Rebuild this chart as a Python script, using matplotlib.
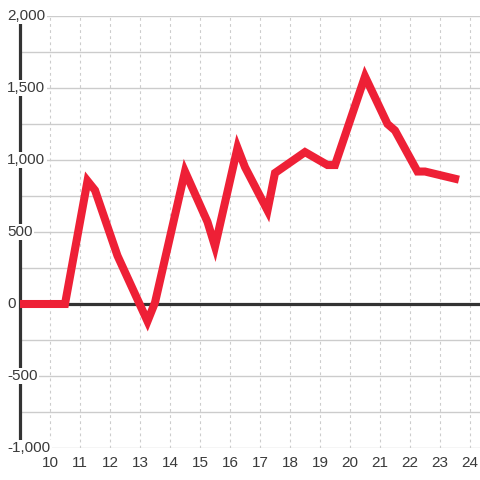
import matplotlib
matplotlib.use("Agg")
import matplotlib.pyplot as plt

plt.rcParams['font.family'] = ['Liberation Sans', 'DejaVu Sans']

# data
x = [9, 10.5, 11.25, 11.5, 12.25, 13.25, 13.5, 14.5, 15.25, 15.5, 16.25, 16.5,
     17.25, 17.5, 18.5, 19.25, 19.5, 20.5, 21.25, 21.5, 22.25, 22.5, 23.5]
y = [0, 0, 855, 790, 335, -120, 10, 920, 570, 400, 1085, 950,
     650, 910, 1055, 965, 965, 1580, 1250, 1205, 920, 920, 870]

xticks = list(range(10, 25))
yticks = [-1000, -500, 0, 500, 1000, 1500, 2000]
ytick_labels = ['-1,000', '-500', '0', '500', '1,000', '1,500', '2,000']

fig = plt.figure(figsize=(4.8, 4.8), dpi=100)
ax = fig.add_axes([20/480, 32/480, 460/480, 432/480])

ax.set_xlim(9, 24 + 1/3)
ax.set_ylim(-1000, 2000)

# grid
for v in range(-1000, 2001, 250):
    ax.axhline(v, color='#cccccc', lw=1.0, zorder=1)
for v in xticks:
    ax.axvline(v, color='#cccccc', lw=0.8, ls=(0, (2.5, 3)), zorder=1)

for s in ['top', 'right', 'bottom']:
    ax.spines[s].set_visible(False)
ax.spines['left'].set_color('#333333')
ax.spines['left'].set_linewidth(2.3)
ax.spines['left'].set_zorder(2.5)

ax.axhline(0, color='#333333', lw=2.3, zorder=2.6)

ax.plot(x, y, color='#ee2036', lw=5.8, solid_joinstyle='miter', zorder=3)

ax.set_xticks(xticks)
ax.set_xticklabels([str(v) for v in xticks])
ax.tick_params(axis='x', length=0, pad=6, labelsize=11, labelcolor='#3a3a3a')
ax.set_yticks([])

# y labels sit on top of the axis line with a white backing
for v, lab in zip(yticks, ytick_labels):
    ax.text(-13/460, v, lab, transform=ax.get_yaxis_transform(), ha='left', va='center',
            fontsize=11, color='#3a3a3a', clip_on=False, zorder=6,
            bbox=dict(facecolor='white', edgecolor='none', pad=1))

plt.savefig('out.png', dpi=100)
